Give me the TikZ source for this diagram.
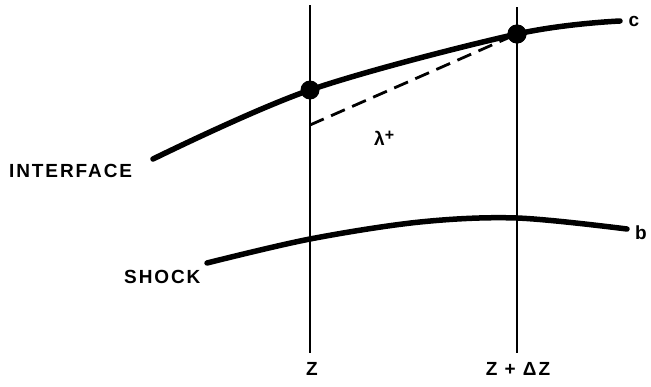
\documentclass[tikz,border=0pt]{standalone}
\usepackage{fontspec}
\newfontfamily\lab{Liberation Sans}[LetterSpace=10]
\newfontfamily\labnsp{Liberation Sans}
\begin{document}
\begin{tikzpicture}[x=1pt,y=-1pt,
  vline/.style={line width=2.8pt},
  curve/.style={line width=5.5pt, line cap=round},
  dashline/.style={line width=2.8pt, dash pattern=on 15pt off 8pt},
  dot/.style={circle, fill=black, inner sep=0pt, minimum size=19pt},
  lbl/.style={font=\lab\bfseries\fontsize{19}{21}\selectfont, inner sep=0pt},
  sml/.style={font=\labnsp\bfseries\fontsize{19}{21}\selectfont, inner sep=0pt}]
\useasboundingbox (0,0) rectangle (651,386);
% vertical lines
\coordinate (v1t) at (310,5);  \coordinate (v1b) at (310,353);
\coordinate (v2t) at (517,7);  \coordinate (v2b) at (517,353);
\draw[vline] (v1t) -- (v1b);
\draw[vline] (v2t) -- (v2b);
% interface curve c
\coordinate (i0) at (153,159); \coordinate (i1) at (310,90);
\coordinate (i2) at (517,34);  \coordinate (i3) at (620,21);
\draw[curve] plot[smooth, tension=0.55] coordinates {(i0) (i1) (i2) (i3)};
% shock curve b
\coordinate (s0) at (207,263); \coordinate (s1) at (310,239);
\coordinate (s2) at (420,222); \coordinate (s3) at (517,218);
\coordinate (s4) at (627,229);
\draw[curve] plot[smooth, tension=0.55] coordinates {(s0) (s1) (s2) (s3) (s4)};
% dashed line
\coordinate (ds) at (310,125);
\node[dot] (d1) at (i1) {};
\node[dot] (d2) at (i2) {};
\draw[dashline] (ds) -- (d2.center);
\node[dot] at (i2) {};
% labels
\node[lbl, anchor=west] (interface) at (9,171) {INTERFACE};
\node[lbl, anchor=west] (shock) at (124,277) {SHOCK};
\node[lbl] (z) at (312,369) {Z};
\node[lbl] (zdz) at (518,369) {Z + ΔZ};
\node[lbl] (c) at (634,21) {c};
\node[lbl] (b) at (641,233) {b};
\node[sml, anchor=west] (lam) at (374,138) {λ\raisebox{0.5ex}{\fontsize{16}{18}\selectfont +}};
\end{tikzpicture}
\end{document}
